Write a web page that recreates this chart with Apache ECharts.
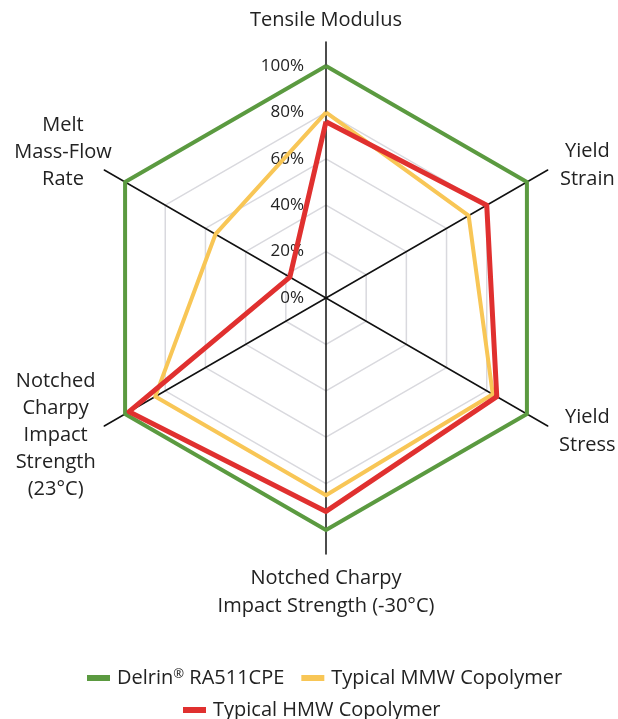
<!DOCTYPE html>
<html>
<head>
<meta charset="utf-8">
<script src="https://cdn.jsdelivr.net/npm/echarts@6/dist/echarts.min.js"></script>
<style>
html, body { margin: 0; padding: 0; background: #fff; }
#main { width: 618px; height: 719px; }
</style>
</head>
<body>
<div id="main"></div>
<script>
// axes, counter-clockwise from the top
var indicators = ['Tensile Modulus', 'Melt\nMass-Flow\nRate', 'Notched\nCharpy\nImpact\nStrength\n(23°C)',
    'Notched Charpy\nImpact Strength (-30°C)', 'Yield\nStress', 'Yield\nStrain'];
var labelStyle = ['t', 'm', 'l', 'b', 'r', 'r'];
var seriesNames = ['Delrin® RA511CPE', 'Typical MMW Copolymer', 'Typical HMW Copolymer'];
var delrin = [100, 100, 100, 100, 100, 100];
var mmw = [80, 55, 85, 85, 83, 71];
var hmw = [76, 18, 98, 92, 85, 80];
var colors = ['#5b9a40', '#f8c656', '#e0302f'];

var font = 'Open Sans';
var myChart = echarts.init(document.getElementById('main'));

var gridInd = indicators.map(function (n, i) {
    var o = {name: n, min: 0, max: 100};
    if (i === 0) {
        o.axisLabel = {show: true};
    }
    return o;
});
var nameInd = indicators.map(function (n, i) {
    var o = {name: n, min: 0, max: 100};
    if (labelStyle[i] === 'm') {
        o.nameGap = -10;
        o.nameTextStyle = {padding: [0, 0, 46, 0]};
    }
    if (labelStyle[i] === 'l') {
        o.nameTextStyle = {padding: [8, 0, 0, 0]};
    }
    return o;
});

// small registered mark in the legend
function legendText(name) {
    return name.replace('®', '{sup|®}');
}
var legendTextStyle = {
    fontFamily: font, fontSize: 20, color: '#222', padding: [0, 0, 0, 2],
    rich: {sup: {fontFamily: font, fontSize: 13, color: '#222', verticalAlign: 'top', padding: [0, 0, 6, 0]}}
};

var option = {
    animation: false,
    textStyle: {fontFamily: font},
    legend: [
        {
            data: seriesNames.slice(0, 2),
            left: 82,
            top: 663,
            icon: 'rect',
            itemWidth: 23,
            itemHeight: 6,
            itemGap: 17,
            formatter: legendText,
            textStyle: legendTextStyle
        },
        {
            data: seriesNames.slice(2),
            left: 178,
            top: 695,
            icon: 'rect',
            itemWidth: 23,
            itemHeight: 6,
            formatter: legendText,
            textStyle: legendTextStyle
        }
    ],
    radar: [
        {
            center: [326, 298],
            radius: 232,
            shape: 'polygon',
            splitNumber: 5,
            indicator: gridInd,
            axisName: {show: false},
            axisLine: {show: false},
            splitArea: {show: false},
            splitLine: {lineStyle: {color: '#d9d9de', width: 1.5}},
            axisLabel: {
                show: false,
                formatter: '{value}%',
                margin: 22,
                fontFamily: font,
                fontSize: 17,
                color: '#222'
            }
        },
        {
            center: [326, 298],
            radius: 256,
            shape: 'polygon',
            splitNumber: 5,
            indicator: nameInd,
            nameGap: 10,
            axisLine: {lineStyle: {color: '#111', width: 1.5}},
            splitLine: {show: false},
            splitArea: {show: false},
            axisName: {
                formatter: function (name) {
                    return '{' + labelStyle[indicators.indexOf(name)] + '|' + name + '}';
                },
                color: '#222',
                fontFamily: font,
                fontSize: 20,
                rich: {
                    t: {fontFamily: font, fontSize: 20, color: '#222', lineHeight: 24},
                    b: {fontFamily: font, fontSize: 20, color: '#222', lineHeight: 28, align: 'center'},
                    r: {fontFamily: font, fontSize: 20, color: '#222', lineHeight: 28, width: 62, align: 'center'},
                    l: {fontFamily: font, fontSize: 20, color: '#222', lineHeight: 27, width: 80, align: 'center'},
                    m: {fontFamily: font, fontSize: 20, color: '#222', lineHeight: 27, width: 100, align: 'center'}
                }
            }
        }
    ],
    series: [
        {
            type: 'radar',
            radarIndex: 0,
            symbol: 'none',
            data: [
                {name: seriesNames[0], value: delrin,
                    itemStyle: {color: colors[0]}, lineStyle: {color: colors[0], width: 4}},
                {name: seriesNames[1], value: mmw,
                    itemStyle: {color: colors[1]}, lineStyle: {color: colors[1], width: 4}},
                {name: seriesNames[2], value: hmw,
                    itemStyle: {color: colors[2]}, lineStyle: {color: colors[2], width: 5}}
            ]
        }
    ]
};

myChart.setOption(option);
</script>
</body>
</html>
